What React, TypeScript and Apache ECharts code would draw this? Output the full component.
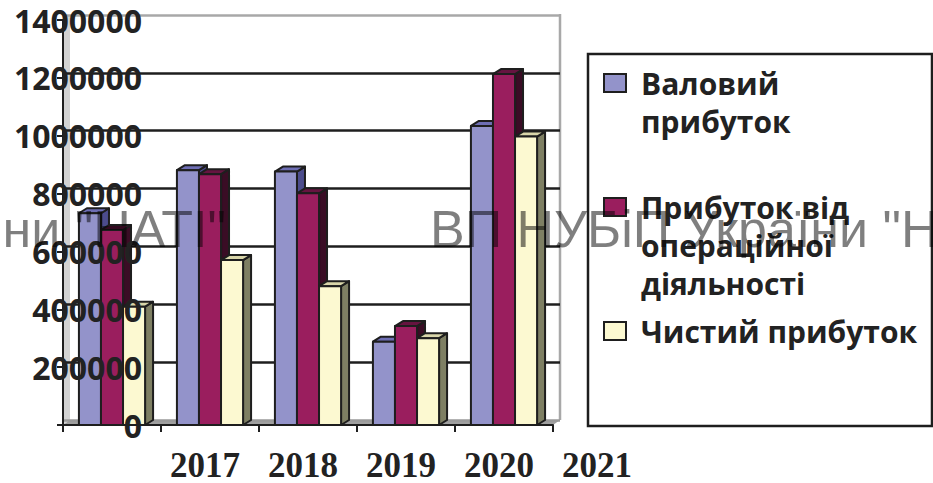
import React, { useEffect, useRef } from 'react';
import * as echarts from 'echarts';

// ---- data ----
const years = ['2017', '2018', '2019', '2020', '2021'];
const seriesNames = ['Валовий\nприбуток', 'Прибуток від\nопераційної\nдіяльності', 'Чистий прибуток'];
const grossProfit = [732000, 881000, 876000, 288000, 1034000];
const operatingProfit = [674000, 867000, 801000, 342000, 1213000];
const netProfit = [409000, 570000, 480000, 300000, 997000];
const yMin = 0;
const yMax = 1400000;
const yStep = 200000;
const watermarkLeft = 'ни "НАТІ"';
const watermarkRight = 'ВП НУБіП України "Н';

// ---- styles ----
const frontColors = ['#9393CA', '#9A1E5E', '#FCF9D1'];
const topColors = ['#6E6EB4', '#661440', '#D9D6AA'];
const sideColors = ['#4C4C8C', '#3A0D25', '#7E7F63'];
const DX = 8;
const DY = -5;
const EDGE = '#1e1e1e';

const renderBar = (k: number) => (params: any, api: any) => {
  const i = api.value(0);
  const v = api.value(1);
  const p0 = api.coord([i, 0]);
  const p1 = api.coord([i, v]);
  const cw = api.size([1, 0])[0];
  const bw = cw * 0.225;
  const x0 = p0[0] - 1.5 * bw + k * bw;
  const x1 = x0 + bw;
  const yb = p0[1];
  const yt = p1[1];
  const st = { stroke: EDGE, lineWidth: 2, lineJoin: 'round' };
  return {
    type: 'group',
    children: [
      {
        type: 'polygon',
        shape: { points: [[x1, yt], [x1 + DX, yt + DY], [x1 + DX, yb + DY], [x1, yb]] },
        style: { ...st, fill: sideColors[k] },
      },
      {
        type: 'polygon',
        shape: { points: [[x0, yt], [x0 + DX, yt + DY], [x1 + DX, yt + DY], [x1, yt]] },
        style: { ...st, fill: topColors[k] },
      },
      {
        type: 'rect',
        shape: { x: x0, y: yt, width: bw, height: yb - yt },
        style: { ...st, fill: frontColors[k] },
      },
    ],
  };
};

// legend layout: icon centred on the first text line
const LEGEND_LINE = 38;
const legendIconCenters = [83, 207, 331];

export default function App() {
  const ref = useRef<HTMLDivElement>(null);
  useEffect(() => {
    if (!ref.current) return;
    const chart = echarts.init(ref.current, undefined, { renderer: 'svg' });
    const valueSets = [grossProfit, operatingProfit, netProfit];
    const legendText = {
      fontFamily: 'Open Sans',
      fontWeight: 'bold',
      fontSize: 30,
      lineHeight: LEGEND_LINE,
      color: '#222',
      padding: [0, 0, 0, 10],
    };
    chart.setOption({
      animation: false,
      grid: [
        { left: 63, top: 20, width: 490, height: 405 },
        { left: 64, top: 15, width: 496, height: 405 },
        { left: 156, top: 20, width: 490, height: 405 },
      ],
      xAxis: [
        {
          type: 'category',
          gridIndex: 0,
          data: years,
          boundaryGap: true,
          z: 10,
          axisLine: { show: true, lineStyle: { color: EDGE, width: 2 } },
          axisTick: { show: true, interval: 0, length: 7, lineStyle: { color: EDGE, width: 2 } },
          axisLabel: { show: false },
        },
        { type: 'category', gridIndex: 1, data: years, show: false },
        {
          type: 'category',
          gridIndex: 2,
          data: years,
          axisLine: { show: false },
          axisTick: { show: false },
          axisLabel: {
            show: true,
            interval: 0,
            margin: 40,
            verticalAlign: 'middle',
            fontFamily: 'Liberation Serif',
            fontWeight: 'bold',
            fontSize: 35,
            color: '#222',
          },
        },
      ],
      yAxis: [
        {
          type: 'value',
          gridIndex: 0,
          min: yMin,
          max: yMax,
          interval: yStep,
          z: 10,
          axisLine: { show: true, lineStyle: { color: EDGE, width: 2 } },
          axisTick: { show: true, length: 6, lineStyle: { color: EDGE, width: 2 } },
          splitLine: { show: false },
          axisLabel: {
            margin: -79,
            verticalAlign: 'middle',
            padding: [14, 0, 0, 0],
            formatter: (v: number) => String(v),
            fontFamily: 'Open Sans',
            fontWeight: 'bold',
            fontSize: 32,
            color: '#222',
          },
        },
        {
          type: 'value',
          gridIndex: 1,
          min: yMin,
          max: yMax,
          interval: yStep,
          axisLine: { show: false },
          axisTick: { show: false },
          axisLabel: { show: false },
          splitLine: {
            show: true,
            lineStyle: {
              width: 2.5,
              color: ['#9a9a9a', EDGE, EDGE, EDGE, EDGE, EDGE, EDGE, '#a8a8a8'],
            },
          },
        },
        { type: 'value', gridIndex: 2, show: false, min: yMin, max: yMax },
      ],
      legend: [0, 1, 2].map((k) => {
        const nLines = seriesNames[k].split('\n').length;
        const blank = '\n'.repeat(nLines - 1);
        const totalLines = 2 * nLines - 1;
        return {
          data: [seriesNames[k]],
          formatter: (name: string) => blank + name,
          left: 603,
          top: legendIconCenters[k] - (totalLines * LEGEND_LINE) / 2,
          orient: 'vertical',
          padding: 0,
          icon: 'rect',
          itemWidth: 22,
          itemHeight: 18,
          selectedMode: false,
          itemStyle: { borderColor: EDGE, borderWidth: 2 },
          textStyle: legendText,
        };
      }),
      series: valueSets.map((vals, k) => ({
        type: 'custom',
        name: seriesNames[k],
        xAxisIndex: 0,
        yAxisIndex: 0,
        data: vals.map((v, i) => [i, v]),
        encode: { x: 0, y: 1 },
        itemStyle: { color: frontColors[k], borderColor: EDGE, borderWidth: 2 },
        renderItem: renderBar(k),
        z: 2,
      })),
      graphic: [
        {
          type: 'polygon',
          z: -1,
          silent: true,
          shape: { points: [[63, 20], [70, 15], [70, 420], [63, 425]] },
          style: { fill: '#d2d2d2' },
        },
        {
          type: 'polygon',
          z: -1,
          silent: true,
          shape: { points: [[63, 425], [70, 420], [560, 420], [553, 425]] },
          style: { fill: '#a0a0a0' },
        },
        {
          type: 'line',
          z: -1,
          silent: true,
          shape: { x1: 560, y1: 14, x2: 560, y2: 420 },
          style: { stroke: '#a8a8a8', lineWidth: 2.5 },
        },
        {
          type: 'rect',
          z: 1,
          silent: true,
          shape: { x: 588, y: 54, width: 344, height: 372 },
          style: { fill: '#fff', stroke: EDGE, lineWidth: 2.5 },
        },
        {
          type: 'text',
          z: 100,
          silent: true,
          x: 226,
          y: 229,
          style: {
            text: watermarkLeft,
            font: 'normal 52px "Liberation Sans"',
            fill: 'rgba(0,0,0,0.5)',
            align: 'right',
            verticalAlign: 'middle',
          },
        },
        {
          type: 'text',
          z: 100,
          silent: true,
          x: 430,
          y: 229,
          style: {
            text: watermarkRight,
            font: 'normal 52px "Liberation Sans"',
            fill: 'rgba(0,0,0,0.5)',
            align: 'left',
            verticalAlign: 'middle',
          },
        },
      ],
    });
    return () => chart.dispose();
  }, []);
  return (
    <div
      ref={ref}
      style={{ position: 'fixed', left: 0, top: 0, width: 933, height: 483, background: '#fff' }}
    />
  );
}
